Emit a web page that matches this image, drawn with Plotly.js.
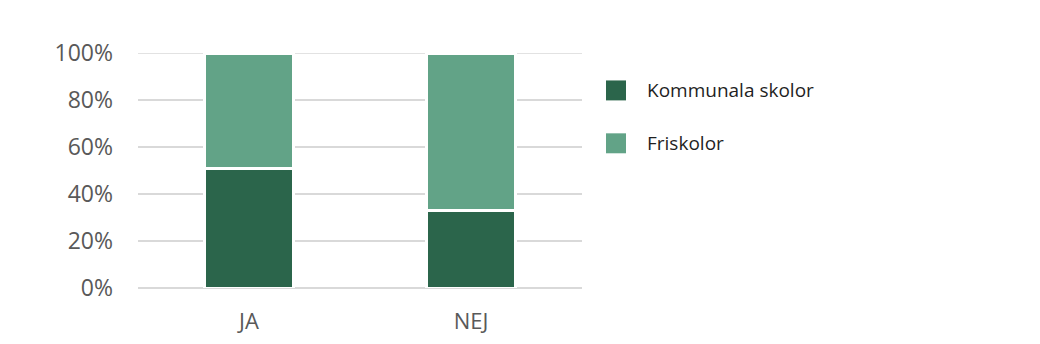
<!DOCTYPE html>
<html><head><meta charset="utf-8">
<script src="https://cdn.plot.ly/plotly-3.0.1.min.js"></script>
<style>body{margin:0;background:#fff}#c{width:1040px;height:344px}</style>
</head><body><div id="c"></div>
<script>
const categories = ["JA", "NEJ"];
const kommunala = [0.51, 0.33];
const friskolor = [0.49, 0.67];
const seriesNames = ["Kommunala skolor", "Friskolor"];
const colors = ["#2B654B", "#62A387"];
const yTickVals = [0, 0.2, 0.4, 0.6, 0.8, 1];
const yTickText = ['0%','20%','40%','60%','80%','100%'];

const traces = [
  {type:'bar', x:categories, y:kommunala, name:seriesNames[0], marker:{color:colors[0], line:{color:'#fff', width:3}}, width:0.4, hoverinfo:'skip'},
  {type:'bar', x:categories, y:friskolor, name:seriesNames[1], marker:{color:colors[1], line:{color:'#fff', width:3}}, width:0.4, hoverinfo:'skip'}
];
const font = "Open Sans, Liberation Sans, sans-serif";
const shapes = [{type:'line', xref:'paper', yref:'y', x0:0, x1:1, y0:1, y1:1, layer:'below', line:{color:'#D9D9D9', width:1.5}}];
const annotations = [];
seriesNames.forEach((n,i)=>{
  const yc = 90 + i*53;
  shapes.push({type:'rect', xref:'paper', yref:'paper', layer:'above',
    x0:(606-138)/444, x1:(626-138)/444, y0:(288-yc-10)/235.5, y1:(288-yc+10)/235.5,
    fillcolor:colors[i], line:{width:0}});
  annotations.push({xref:'paper', yref:'paper', x:(645-138)/444, y:(288-yc)/235.5, xanchor:'left', yanchor:'middle',
    text:n, showarrow:false, font:{family:font, size:19, color:'#1F1F1F'}});
});
const layout = {
  width:1040, height:344, barmode:'stack', showlegend:false,
  margin:{l:138, r:458, t:52.5, b:56},
  paper_bgcolor:'#fff', plot_bgcolor:'#fff',
  font:{family:font, color:'#595959'},
  xaxis:{tickfont:{size:22, color:'#595959'}, showgrid:false, showline:false, ticks:'', ticklabelstandoff:18},
  yaxis:{range:[0,1], tickvals:yTickVals, ticktext:yTickText,
    tickfont:{size:23, color:'#595959'}, showgrid:true, gridcolor:'#D9D9D9', gridwidth:1.5,
    zeroline:true, zerolinecolor:'#D9D9D9', zerolinewidth:1.5, showline:false, ticks:'', ticklabelstandoff:24},
  shapes, annotations
};
Plotly.newPlot('c', traces, layout, {displayModeBar:false, staticPlot:true});
</script></body></html>
